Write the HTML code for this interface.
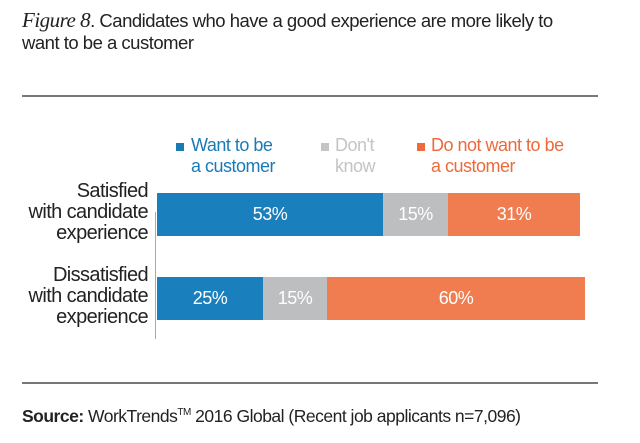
<!DOCTYPE html>
<html><head><style>
body{margin:0;width:640px;height:443px;background:#fff;position:relative;font-family:"Liberation Sans",sans-serif;overflow:hidden}
.a{position:absolute;white-space:nowrap}
.bar{position:absolute;color:#fff;font-size:18px;display:flex;align-items:center;justify-content:center;letter-spacing:-0.5px}
.lab{position:absolute;right:492px;text-align:right;font-size:20px;line-height:21px;color:#222;letter-spacing:-0.6px}
.leg{position:absolute;font-size:18px;line-height:21px;letter-spacing:-0.5px}
.sq{position:absolute;width:8px;height:8px}
</style></head><body>
<div class="a" style="left:22px;top:9px;font-size:18.5px;color:#222;line-height:22px;letter-spacing:-0.5px"><span style="font-family:'Liberation Serif',serif;font-style:italic;font-size:21px">Figure 8</span>. Candidates who have a good experience are more likely to<br>want to be a customer</div>
<div class="a" style="left:22px;top:95px;width:576px;height:2px;background:#777"></div>
<div class="sq" style="left:176px;top:143px;background:#1a7ab5"></div>
<div class="leg" style="left:191px;top:135px;color:#1a7ab5">Want to be<br>a customer</div>
<div class="sq" style="left:321px;top:143px;background:#c4c4c4"></div>
<div class="leg" style="left:335px;top:135px;color:#c4c4c4">Don't<br>know</div>
<div class="sq" style="left:417px;top:143px;background:#ec6a3c"></div>
<div class="leg" style="left:431px;top:135px;color:#ec6a3c">Do not want to be<br>a customer</div>
<div class="a" style="left:155px;top:212px;width:1px;height:127px;background:#aaa"></div>
<div class="lab" style="top:181px">Satisfied<br>with candidate<br>experience</div>
<div class="lab" style="top:265px">Dissatisfied<br>with candidate<br>experience</div>
<div class="bar" style="left:157px;top:193px;width:226px;height:43px;background:#1a7fbd">53%</div>
<div class="bar" style="left:383px;top:193px;width:65px;height:43px;background:#bdbec0">15%</div>
<div class="bar" style="left:448px;top:193px;width:132px;height:43px;background:#f07d50">31%</div>
<div class="bar" style="left:157px;top:277px;width:106px;height:43px;background:#1a7fbd">25%</div>
<div class="bar" style="left:263px;top:277px;width:64px;height:43px;background:#bdbec0">15%</div>
<div class="bar" style="left:327px;top:277px;width:258px;height:43px;background:#f07d50">60%</div>
<div class="a" style="left:22px;top:382px;width:576px;height:2px;background:#777"></div>
<div class="a" style="left:22px;top:406px;font-size:17.5px;color:#222;letter-spacing:-0.5px"><b>Source:</b> WorkTrends<sup style="font-size:10px">TM</sup> 2016 Global (Recent job applicants n=7,096)</div>
</body></html>
